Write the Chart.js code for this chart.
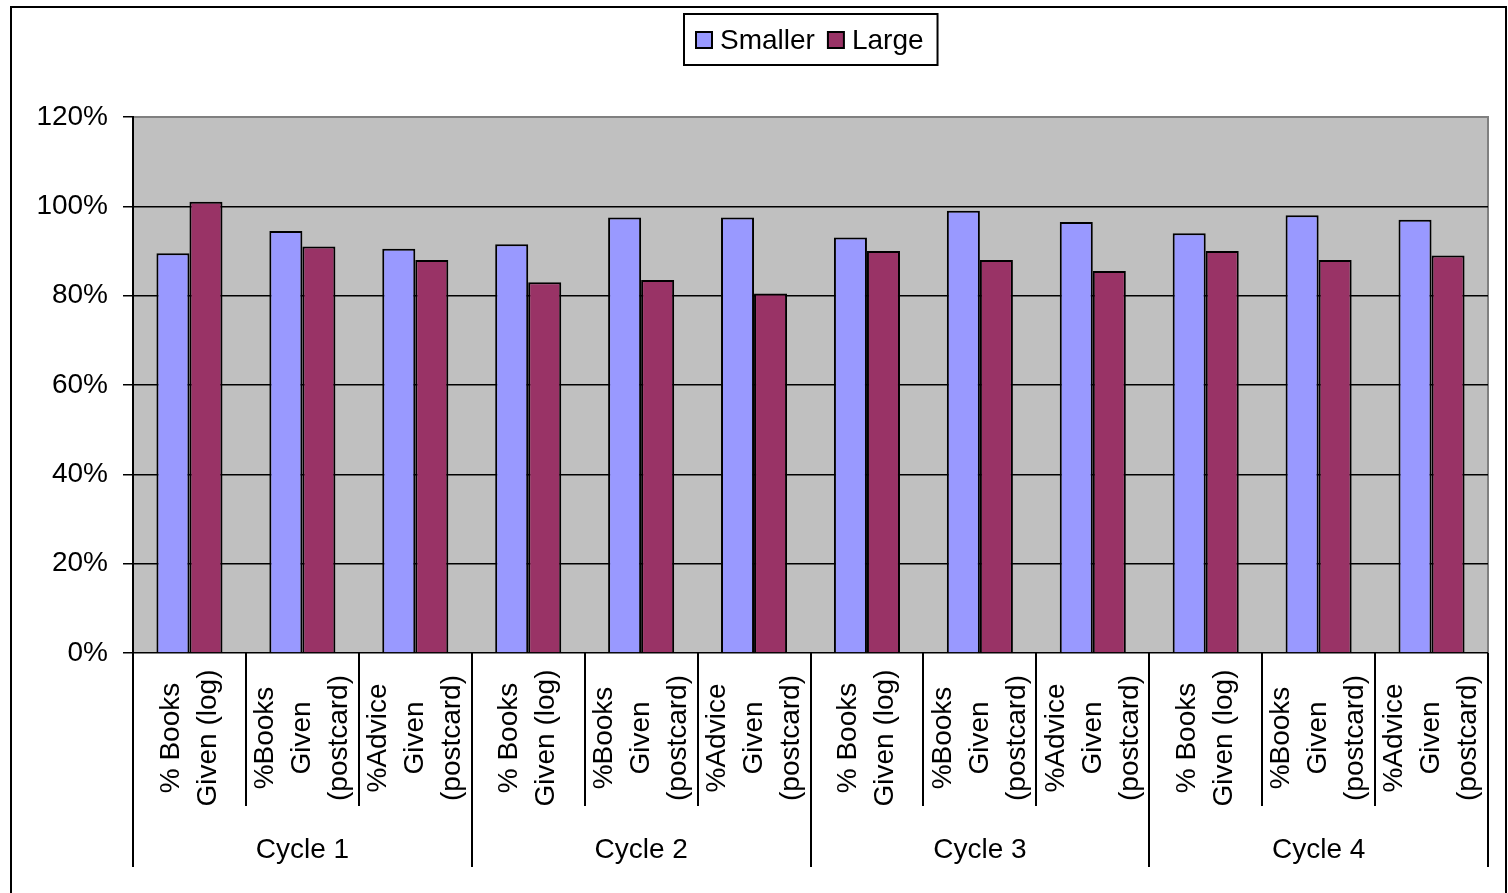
<!DOCTYPE html>
<html>
<head>
<meta charset="utf-8">
<script src="https://cdn.jsdelivr.net/npm/chart.js@4.4.1/dist/chart.umd.min.js"></script>
<style>
  body { margin: 0; background: #fff; }
  canvas { display: block; }
</style>
</head>
<body>
<canvas id="chart" width="1508" height="893"></canvas>
<script>
// categories (repeated for every cycle) and the cycle names
const measures = [
    ['% Books', 'Given (log)'],
    ['%Books', 'Given', '(postcard)'],
    ['%Advice', 'Given', '(postcard)']
];
const cycles = ['Cycle 1', 'Cycle 2', 'Cycle 3', 'Cycle 4'];

// values in percent
const smaller = [89.5, 94.5, 90.5, 91.5, 97.5, 97.5, 93, 99, 96.5, 94, 98, 97];
const large = [101, 91, 88, 83, 83.5, 80.5, 90, 88, 85.5, 90, 88, 89];

const yTicks = [0, 20, 40, 60, 80, 100, 120];

const FONT = "'Liberation Sans', Arial, sans-serif";

let labels = [];
cycles.forEach(c => {
    measures.forEach(m => labels.push(m));
});

// draws the gray plot area, the grouped x axis, the legend and the frame
const excelLook = {
    id: 'excelLook',
    beforeDraw(chart) {
        const ctx = chart.ctx;
        const a = chart.chartArea;
        ctx.save();
        ctx.fillStyle = '#fff';
        ctx.fillRect(0, 0, chart.width, chart.height);
        ctx.fillStyle = '#c0c0c0';
        ctx.fillRect(a.left, a.top, a.right - a.left, a.bottom - a.top);
        ctx.strokeStyle = '#808080';
        ctx.lineWidth = 2;
        ctx.beginPath();
        ctx.moveTo(a.left, a.top);
        ctx.lineTo(a.right, a.top);
        ctx.lineTo(a.right, a.bottom);
        ctx.stroke();
        ctx.restore();
    },
    afterDraw(chart) {
        const ctx = chart.ctx;
        const a = chart.chartArea;
        const x = chart.scales.x;
        const n = labels.length;
        ctx.save();

        // separators under the axis
        ctx.strokeStyle = '#000';
        ctx.lineWidth = 2;
        for (let k = 0; k <= n; k++) {
            let px;
            if (k == 0) px = a.left;
            else if (k == n) px = a.right;
            else px = (x.getPixelForValue(k - 1) + x.getPixelForValue(k)) / 2;
            const bottom = (k % 3 == 0) ? 867 : 806;
            ctx.beginPath();
            ctx.moveTo(Math.round(px), a.bottom);
            ctx.lineTo(Math.round(px), bottom);
            ctx.stroke();
        }

        // rotated category labels
        ctx.fillStyle = '#000';
        ctx.font = '28px ' + FONT;
        ctx.textAlign = 'center';
        ctx.textBaseline = 'middle';
        labels.forEach((lines, i) => {
            const cx = x.getPixelForValue(i);
            lines.forEach((line, j) => {
                const lx = cx + (j - (lines.length - 1) / 2) * 37;
                ctx.save();
                ctx.translate(lx, 738);
                ctx.rotate(-Math.PI / 2);
                ctx.fillText(line, 0, 0);
                ctx.restore();
            });
        });

        // cycle labels
        cycles.forEach((c, i) => {
            const cx = (x.getPixelForValue(i * 3) + x.getPixelForValue(i * 3 + 2)) / 2;
            ctx.fillText(c, cx, 850);
        });

        // legend with a box
        const ds = chart.data.datasets;
        const sq = 16, gap = 8, sep = 13, padL = 12, padR = 14;
        let w = padL + padR;
        ds.forEach((d, i) => {
            w += sq + gap + ctx.measureText(d.label).width + (i > 0 ? sep : 0);
        });
        let lx = Math.round((a.left + a.right) / 2 - w / 2);
        ctx.lineWidth = 2;
        ctx.strokeStyle = '#000';
        ctx.strokeRect(lx, 14, w, 51);
        let px = lx + padL;
        ctx.textAlign = 'left';
        ds.forEach((d, i) => {
            if (i > 0) px += sep;
            ctx.fillStyle = d.backgroundColor;
            ctx.fillRect(px, 32, sq, sq);
            ctx.lineWidth = 2;
            ctx.strokeRect(px, 32, sq, sq);
            px += sq + gap;
            ctx.fillStyle = '#000';
            ctx.fillText(d.label, px, 41);
            px += ctx.measureText(d.label).width;
        });

        // outer frame
        ctx.lineWidth = 2;
        ctx.strokeRect(11, 7, 1495, 900);
        ctx.restore();
    }
};

new Chart(document.getElementById('chart'), {
    type: 'bar',
    data: {
        labels: labels.map(l => l.join(' ')),
        datasets: [
            {
                label: 'Smaller',
                data: smaller,
                backgroundColor: '#9999ff',
                borderColor: '#000',
                borderWidth: 2
            },
            {
                label: 'Large',
                data: large,
                backgroundColor: '#993366',
                borderColor: '#000',
                borderWidth: 2
            }
        ]
    },
    options: {
        responsive: false,
        animation: false,
        devicePixelRatio: 1,
        layout: { padding: { left: 0, right: 20, top: 117, bottom: 0 } },
        plugins: {
            legend: { display: false },
            tooltip: { enabled: false }
        },
        datasets: {
            bar: { categoryPercentage: 0.585, barPercentage: 1 }
        },
        scales: {
            x: {
                grid: { display: false },
                border: { display: false },
                ticks: { display: false },
                afterFit: s => { s.height = 240; }
            },
            y: {
                min: 0,
                max: 120,
                afterBuildTicks: s => { s.ticks = yTicks.map(v => ({ value: v })); },
                afterFit: s => { s.width = 133; },
                border: { color: '#000', width: 2 },
                grid: {
                    color: c => (c.tick && c.tick.value == 120) ? '#808080' : '#000',
                    lineWidth: 1.5,
                    drawTicks: true,
                    tickLength: 10,
                    tickColor: '#000'
                },
                ticks: {
                    color: '#000',
                    padding: 15,
                    font: { family: FONT, size: 28 },
                    callback: v => v + '%'
                }
            }
        }
    },
    plugins: [excelLook]
});
</script>
</body>
</html>
